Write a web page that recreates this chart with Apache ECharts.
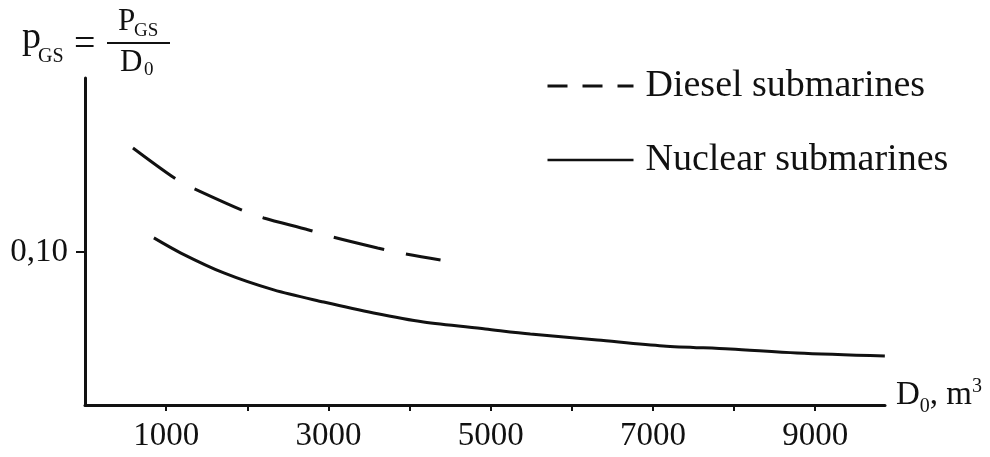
<!DOCTYPE html>
<html>
<head>
<meta charset="utf-8">
<script src="https://cdn.jsdelivr.net/npm/echarts@6/dist/echarts.min.js"></script>
<style>
  html, body { margin: 0; padding: 0; background: #fff; }
  #chart { width: 990px; height: 457px; }
</style>
</head>
<body>
<div id="chart"></div>
<script>
// Displacement D0 (m³) and specific weight ratio pGS = PGS / D0
const dieselD0 = [591, 1157, 1403, 1957, 2203, 2757, 3052, 3606, 3889, 4382];
const dieselP  = [0.168, 0.1464, 0.1399, 0.1268, 0.1222, 0.1144, 0.1098, 0.1026, 0.0993, 0.0948];

const nuclearD0 = [849, 1182, 1711, 2326, 2942, 3557, 4172, 4935, 5489, 6314, 7126, 7951, 8775, 9858];
const nuclearP  = [0.1092, 0.0993, 0.0863, 0.0752, 0.0673, 0.0601, 0.0542, 0.0497, 0.0464, 0.0425, 0.0386, 0.0366, 0.0340, 0.0320];

const xTicks  = [1000, 2000, 3000, 4000, 5000, 6000, 7000, 8000, 9000];
const xLabels = [1000, 3000, 5000, 7000, 9000];
const yTicks  = [0.10];

const seriesNames = ['Diesel submarines', 'Nuclear submarines'];

const FONT = 'Liberation Serif';
const INK = '#111';

const pairs = (xs, ys) => xs.map((x, i) => [x, ys[i]]);

const chart = echarts.init(document.getElementById('chart'), null, { renderer: 'canvas' });

// pieces of the y-axis formula: pGS = PGS / D0
const formula = [
  { text: 'p',  x: 22,  y: 38, size: 38 },
  { text: 'GS', x: 38,  y: 57, size: 20 },
  { text: '=',  x: 74,  y: 45, size: 38 },
  { text: 'P',  x: 118, y: 22, size: 31 },
  { text: 'GS', x: 134, y: 31, size: 19 },
  { text: 'D',  x: 120, y: 63, size: 31 },
  { text: '0',  x: 144, y: 70, size: 19 }
];

chart.setOption({
  backgroundColor: '#fff',
  animation: false,
  grid: { left: 85, right: 105, top: 78, bottom: 52, containLabel: false },
  legend: {
    orient: 'vertical',
    left: 541,
    top: 62,
    itemWidth: 86,
    itemHeight: 20,
    itemGap: 36,
    itemStyle: { opacity: 0 },
    textStyle: { fontFamily: FONT, fontSize: 38, color: INK, padding: [0, 0, 0, 7] },
    data: [
      { name: seriesNames[0], lineStyle: { type: [20, 15], width: 3, color: INK } },
      { name: seriesNames[1], lineStyle: { type: 'solid', width: 2.5, color: INK } }
    ]
  },
  xAxis: {
    type: 'value',
    min: 0,
    max: 9860,
    name: '{a|D}{s|0}{a|, m}{u|3}',
    nameLocation: 'end',
    nameGap: 11,
    nameTextStyle: {
      verticalAlign: 'middle',
      padding: [0, 0, 20, 0],
      rich: {
        a: { fontFamily: FONT, fontSize: 33, color: INK, lineHeight: 36 },
        s: { fontFamily: FONT, fontSize: 20, color: INK, lineHeight: 36, verticalAlign: 'bottom', padding: [0, 0, -4, 0] },
        u: { fontFamily: FONT, fontSize: 20, color: INK, lineHeight: 36, verticalAlign: 'top', padding: [0, 0, 0, 0] }
      }
    },
    axisLine: { show: true, lineStyle: { color: INK, width: 3 } },
    axisTick: { show: true, length: 6, lineStyle: { color: INK, width: 2 }, customValues: xTicks },
    axisLabel: {
      customValues: xLabels,
      margin: 15,
      fontFamily: FONT,
      fontSize: 33,
      color: INK,
      formatter: v => String(v)
    },
    splitLine: { show: false }
  },
  yAxis: {
    type: 'value',
    min: 0,
    max: 0.2137,
    axisLine: { show: true, lineStyle: { color: INK, width: 3 } },
    axisTick: { show: true, length: 9, lineStyle: { color: INK, width: 2 }, customValues: yTicks },
    axisLabel: {
      customValues: yTicks,
      margin: 17,
      fontFamily: FONT,
      fontSize: 33,
      color: INK,
      formatter: v => v.toFixed(2).replace('.', ',')
    },
    splitLine: { show: false }
  },
  graphic: [
    ...formula.map(f => ({
      type: 'text',
      x: f.x,
      y: f.y,
      style: {
        text: f.text,
        fontFamily: FONT,
        fontSize: f.size,
        fill: INK,
        textAlign: 'left',
        textVerticalAlign: 'middle'
      }
    })),
    {
      type: 'line',
      shape: { x1: 107, y1: 43, x2: 170, y2: 43 },
      style: { stroke: INK, lineWidth: 2 }
    }
  ],
  series: [
    {
      name: seriesNames[0],
      type: 'line',
      data: pairs(dieselD0, dieselP),
      smooth: 0.3,
      symbol: 'none',
      lineStyle: { color: INK, width: 3, type: [52, 22] },
      itemStyle: { color: INK }
    },
    {
      name: seriesNames[1],
      type: 'line',
      data: pairs(nuclearD0, nuclearP),
      smooth: 0.3,
      symbol: 'none',
      lineStyle: { color: INK, width: 3 },
      itemStyle: { color: INK }
    }
  ]
});
</script>
</body>
</html>
